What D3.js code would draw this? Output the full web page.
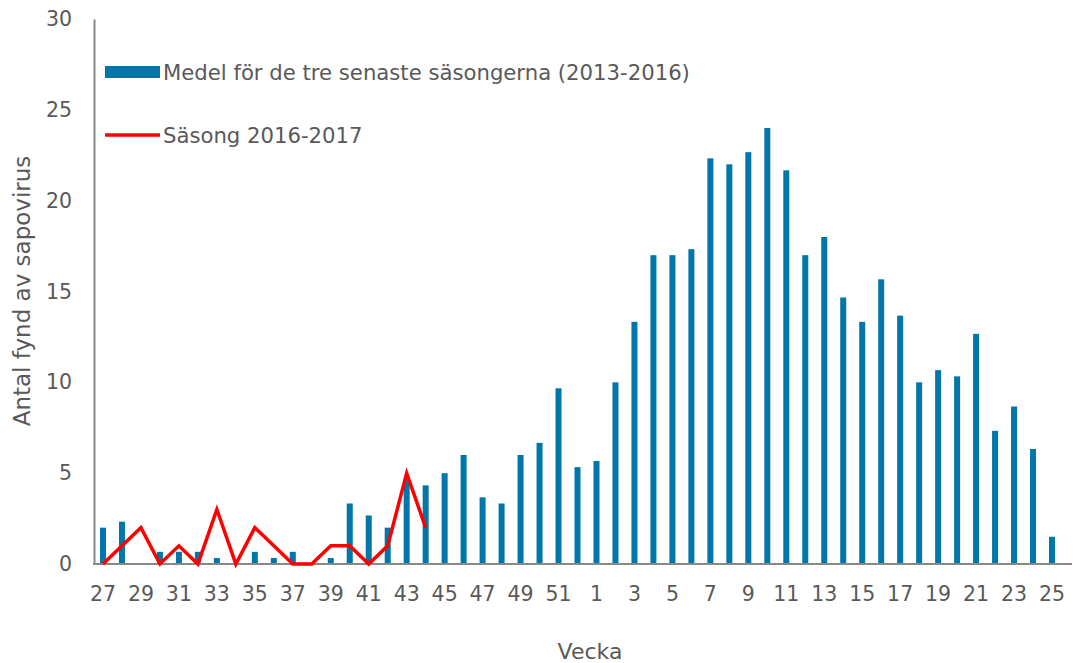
<!DOCTYPE html>
<html>
<head>
<meta charset="utf-8">
<script src="https://cdn.jsdelivr.net/npm/d3@7"></script>
<style>
  body { margin: 0; background: #fff; }
  text { font-family: "DejaVu Sans", Verdana, sans-serif; fill: #595959; }
</style>
</head>
<body>
<script>
// veckor: säsong v27 - v25
var weeks = [27,28,29,30,31,32,33,34,35,36,37,38,39,40,41,42,43,44,45,46,47,48,49,50,51,52,
             1,2,3,4,5,6,7,8,9,10,11,12,13,14,15,16,17,18,19,20,21,22,23,24,25];

// medel 2013-2016
var medel = [2, 2.33, 0, 0.67, 0.67, 0.67, 0.33, 0, 0.67, 0.33, 0.67, 0, 0.33, 3.33, 2.67, 2, 4.67, 4.33,
             5, 6, 3.67, 3.33, 6, 6.67, 9.67, 5.33,
             5.67, 10, 13.33, 17, 17, 17.33, 22.33, 22, 22.67, 24, 21.67, 17, 18, 14.67, 13.33, 15.67,
             13.67, 10, 10.67, 10.33, 12.67, 7.33, 8.67, 6.33, 1.5];

// säsong 2016-2017 (bara v27-v44)
var sasong = [0, 1, 2, 0, 1, 0, 3, 0, 2, 1, 0, 0, 1, 1, 0, 1, 5, 2];

var yTicks = [0, 5, 10, 15, 20, 25, 30];
var legendLabels = ["Medel för de tre senaste säsongerna (2013-2016)", "Säsong 2016-2017"];

var W = 1076, H = 663;
var pLeft = 94, pRight = 1072, pTop = 19, pBottom = 564;

var svg = d3.select("body").append("svg")
    .attr("width", W)
    .attr("height", H);

var x = d3.scaleBand().domain(weeks).range([93.5, 1061.5]);
var xc = function(d) { return x(d) + x.bandwidth() / 2; };
var y = d3.scaleLinear().domain([0, 30]).range([pBottom, pTop]);

// staplar
svg.append("g").selectAll("rect")
    .data(medel)
    .enter().append("rect")
    .attr("x", function(d, i) { return xc(weeks[i]) - 3; })
    .attr("width", 6)
    .attr("y", function(d) { return y(d); })
    .attr("height", function(d) { return pBottom - y(d); })
    .attr("fill", "#0076a9");

// axlar
var yAxis = d3.axisLeft(y).tickValues(yTicks).tickSize(0).tickPadding(22);
var gy = svg.append("g").attr("transform", "translate(" + pLeft + ",0)").call(yAxis);
gy.select(".domain").attr("stroke", "#888").attr("stroke-width", 2);
gy.selectAll("text").attr("font-size", 20.5).style("fill", "#595959");

var xAxis = d3.axisBottom(x)
    .tickValues(weeks.filter(function(w, i) { return i % 2 == 0; }))
    .tickSize(0).tickPadding(22);
var gx = svg.append("g").attr("transform", "translate(0," + pBottom + ")").call(xAxis);
gx.select(".domain").remove();
gx.selectAll("text").attr("font-size", 20.5).style("fill", "#595959");
gy.attr("font-family", null).attr("font-size", null);
gx.attr("font-family", null).attr("font-size", null);

svg.append("line")
    .attr("x1", pLeft - 1).attr("x2", pRight)
    .attr("y1", pBottom).attr("y2", pBottom)
    .attr("stroke", "#888").attr("stroke-width", 2);

// linje
var line = d3.line()
    .x(function(d, i) { return xc(weeks[i]); })
    .y(function(d) { return y(d); });

svg.append("path")
    .attr("d", line(sasong))
    .attr("fill", "none")
    .attr("stroke", "#ff0000")
    .attr("stroke-width", 3.5)
    .attr("stroke-linejoin", "miter");

// axeltitlar
svg.append("text")
    .attr("transform", "translate(30,291) rotate(-90)")
    .attr("text-anchor", "middle")
    .attr("font-size", 23)
    .text("Antal fynd av sapovirus");

svg.append("text")
    .attr("x", 590).attr("y", 659)
    .attr("text-anchor", "middle")
    .attr("font-size", 22)
    .text("Vecka");

// legend
svg.append("rect")
    .attr("x", 105).attr("y", 66).attr("width", 55).attr("height", 12)
    .attr("fill", "#0076a9");
svg.append("text")
    .attr("x", 163).attr("y", 80)
    .attr("font-size", 21.2)
    .text(legendLabels[0]);

svg.append("line")
    .attr("x1", 105).attr("x2", 160).attr("y1", 135).attr("y2", 135)
    .attr("stroke", "#ff0000").attr("stroke-width", 3.5);
svg.append("text")
    .attr("x", 163).attr("y", 143)
    .attr("font-size", 21.2)
    .text(legendLabels[1]);
</script>
</body>
</html>
